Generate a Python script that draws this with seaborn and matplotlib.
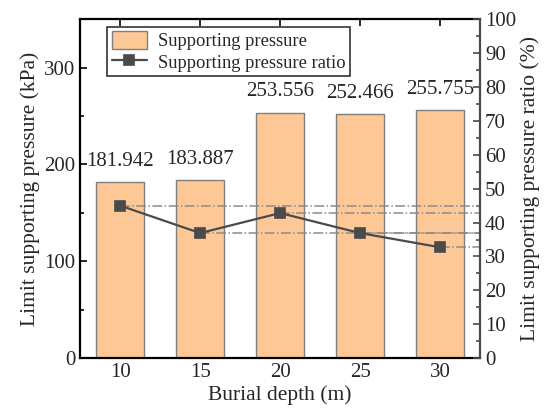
import matplotlib
matplotlib.use("Agg")
import matplotlib.pyplot as plt
import seaborn as sns
import pandas as pd
from matplotlib.ticker import MultipleLocator

depths = ["10", "15", "20", "25", "30"]
pressure = [181.942, 183.887, 253.556, 252.466, 255.755]
ratio = [45.0, 36.9, 42.8, 36.9, 32.7]

sns.set_style("ticks")
plt.rcParams["font.family"] = ["Liberation Serif", "DejaVu Serif"]

df = pd.DataFrame({"depth": depths, "pressure": pressure, "ratio": ratio})

fig, ax = plt.subplots(figsize=(5.45, 4.16), dpi=100)
fig.subplots_adjust(left=0.147, right=0.881, bottom=0.139, top=0.954)

sns.barplot(data=df, x="depth", y="pressure", order=depths, color="#FDC896",
            saturation=1, edgecolor="#7f7f7f", linewidth=1.0, width=0.6,
            label="Supporting pressure", ax=ax)
for c in ax.containers:
    ax.bar_label(c, fmt="%.3f", padding=8, fontsize=15)

ax2 = ax.twinx()
sns.pointplot(data=df, x="depth", y="ratio", order=depths, color="#4a4a4a",
              markers="s", markersize=6.5, linewidth=1.6,
              label="Supporting pressure ratio", ax=ax2)

xmin, xmax = -0.5, 4.5
ax.set_xlim(xmin, xmax)
ax2.set_xlim(xmin, xmax)
for i, r in enumerate(ratio):
    ax2.hlines(r, i, xmax, colors="#8c8c8c", linestyles="-.", linewidth=1.1, zorder=1)

ax.set_ylim(0, 350)
ax2.set_ylim(0, 100)
ax.yaxis.set_major_locator(MultipleLocator(100))
ax.yaxis.set_minor_locator(MultipleLocator(50))
ax2.yaxis.set_major_locator(MultipleLocator(10))
ax2.yaxis.set_minor_locator(MultipleLocator(5))

ax.set_xlabel("Burial depth (m)", fontsize=15.5, labelpad=2)
ax.set_ylabel("Limit supporting pressure (kPa)", fontsize=15.5, labelpad=3)
ax2.set_ylabel("Limit supporting pressure ratio (%)", fontsize=15.5, labelpad=3)

ax.tick_params(axis="both", which="both", direction="in", labelsize=15, top=True,
               width=1.2, color="black")
ax.tick_params(axis="both", which="major", length=5)
ax.tick_params(axis="y", which="minor", length=3)
ax.tick_params(axis="x", which="minor", bottom=False, top=False)
ax2.tick_params(axis="y", which="both", direction="in", labelsize=15,
                width=1.2, color="#4a4a4a")
ax2.tick_params(axis="y", which="major", length=5)
ax2.tick_params(axis="y", which="minor", length=3)

for s in ["left", "bottom", "top"]:
    ax.spines[s].set_linewidth(1.6)
    ax.spines[s].set_color("black")
    ax2.spines[s].set_visible(False)
ax.spines["right"].set_visible(False)
ax2.spines["right"].set_linewidth(1.6)
ax2.spines["right"].set_color("#4a4a4a")

h1, l1 = ax.get_legend_handles_labels()
h2, l2 = ax2.get_legend_handles_labels()
if ax.get_legend() is not None:
    ax.get_legend().remove()
leg = ax2.legend(h1 + h2, l1 + l2, loc="upper left", bbox_to_anchor=(0.068, 0.978),
                 fontsize=13.3, frameon=True, fancybox=False, edgecolor="black",
                 borderpad=0.25, handlelength=1.9, handleheight=1.1, labelspacing=0.12,
                 handletextpad=0.6, borderaxespad=0)
leg.get_frame().set_linewidth(1.2)

fig.savefig("out.png", dpi=100)
